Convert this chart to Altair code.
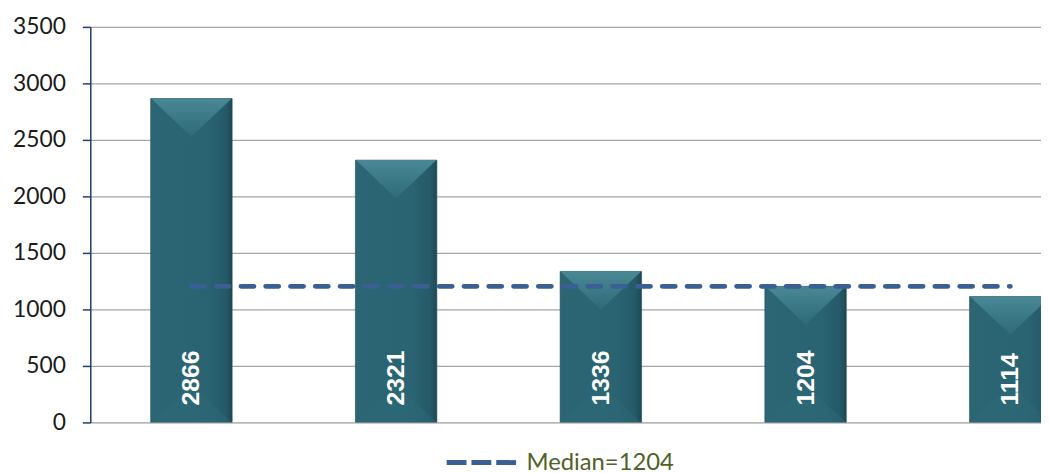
import altair as alt
import pandas as pd

# ---- data ----
positions = [0, 1, 2, 3, 4]
values = [2866, 2321, 1336, 1204, 1114]
median_value = 1204
median_label = "Median=1204"
y_ticks = [0, 500, 1000, 1500, 2000, 2500, 3000, 3500]

bars = pd.DataFrame({"pos": positions, "value": values})
bars["x0"] = bars["pos"] - 0.199
bars["x1"] = bars["pos"] + 0.199
bars["zero"] = 0
med = pd.DataFrame({"xs": [positions[0]], "xe": [positions[-1]], "m": [median_value], "label": [median_label]})

xscale = alt.Scale(domain=[-0.494, 4.15], nice=False, zero=False)
yscale = alt.Scale(domain=[0, 3500], nice=False)

bar_fill = alt.Gradient(
    gradient="linear", x1=0, x2=1, y1=0, y2=0,
    stops=[alt.GradientStop(color="#2C6674", offset=0),
           alt.GradientStop(color="#2A6372", offset=0.7),
           alt.GradientStop(color="#255A68", offset=0.92),
           alt.GradientStop(color="#1D4853", offset=1)])

base = alt.Chart(bars)

bar = base.mark_bar(fill=bar_fill, clip=True, stroke="#1E4A55", strokeWidth=0.6).encode(
    x=alt.X("x0:Q", scale=xscale, axis=None),
    x2="x1:Q",
    y=alt.Y("value:Q", scale=yscale, axis=alt.Axis(
        values=y_ticks, format="d", title=None, grid=True, gridColor="#A6A6A6", gridWidth=1.2,
        domainColor="#203F6B", domainWidth=1.5, tickColor="#203F6B", tickWidth=1.5,
        tickSize=8, labelPadding=17, labelFont="Lato", labelFontSize=23,
        labelColor="#1A1A1A")),
    y2="zero:Q",
)

top_bevel = base.mark_point(
    shape="M-1,0L1,0L0,0.95Z", size=6600, filled=True, opacity=1, clip=True,
    fill=alt.Gradient(gradient="linear", x1=0, x2=0, y1=0, y2=1,
                      stops=[alt.GradientStop(color="#4A8896", offset=0),
                             alt.GradientStop(color="#2E6A78", offset=1)]),
    strokeWidth=0,
).encode(x=alt.X("pos:Q", scale=xscale), y=alt.Y("value:Q", scale=yscale))

bottom_bevel = base.mark_point(
    shape="M-1,0L1,0L0,-0.95Z", size=6600, filled=True, clip=True,
    fill="#2F6A78", opacity=0.45, strokeWidth=0,
).encode(x=alt.X("pos:Q", scale=xscale), y=alt.Y("zero:Q", scale=yscale))

labels = base.mark_text(
    angle=270, align="left", baseline="middle", dx=17, fontSize=25,
    fontWeight="bold", font="Liberation Sans", color="white", clip=True,
).encode(x=alt.X("pos:Q", scale=xscale), y=alt.Y("zero:Q", scale=yscale),
         text=alt.Text("value:Q"))

median = alt.Chart(med).mark_rule(
    strokeWidth=5, strokeDash=[13, 12], strokeCap="round",
).encode(
    x=alt.X("xs:Q", scale=xscale), x2="xe:Q",
    y=alt.Y("m:Q", scale=yscale),
    color=alt.Color("label:N", scale=alt.Scale(range=["#3A5F95"]), legend=alt.Legend(
        title=None, orient="none", legendX=357, legendY=402,
        symbolType="stroke", symbolSize=4900, symbolStrokeWidth=5,
        symbolDash=[20, 5], labelColor="#4F6228", labelFont="Lato",
        labelFontSize=24, labelOffset=8)),
)

chart = alt.layer(bar, top_bevel, bottom_bevel, labels, median).properties(
    width=959, height=399,
    padding={"left": 4, "top": 6, "right": 0, "bottom": 0},
).configure_view(stroke=None).configure(background="white")

chart.save("out.html", embed_options={"renderer": "svg", "actions": False})
